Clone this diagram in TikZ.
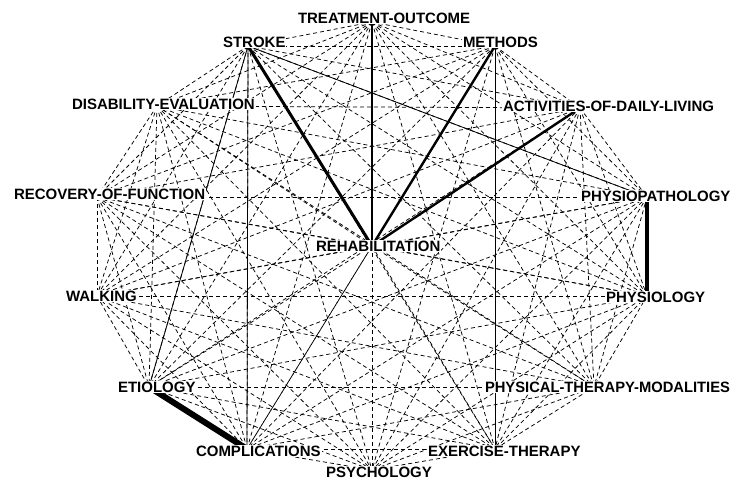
\documentclass[tikz,border=0pt]{standalone}
\usepackage{graphicx}
\usepackage{fontspec}
\setmainfont{Liberation Sans}
\begin{document}
\begin{tikzpicture}[x=1pt,y=-1pt,
  link/.style={line width=0.75pt, dash pattern=on 4pt off 3pt},
  tie/.style={line width=#1, line cap=butt},
  term/.style={fill=white, inner sep=0.8pt, anchor=west, text height=11pt, text depth=0pt,
    font=\fontsize{15}{15}\selectfont\bfseries}]
\useasboundingbox (0,0) rectangle (732,480);

% term positions
\coordinate (treat)   at (372,22);
\coordinate (stroke)  at (248,46);
\coordinate (methods) at (495,46);
\coordinate (disab)   at (157,106);
\coordinate (activ)   at (580,108);
\coordinate (recov)   at (97,197);
\coordinate (physp)   at (647,197);
\coordinate (rehab)   at (372,246);
\coordinate (walk)    at (97,296);
\coordinate (physl)   at (647,296);
\coordinate (etiol)   at (149,387);
\coordinate (ptm)     at (594,387);
\coordinate (compl)   at (247,449);
\coordinate (exer)    at (495,449);
\coordinate (psych)   at (372,470);

% every pair of terms is linked by a dashed line
\foreach \a [count=\i] in {treat,stroke,methods,disab,activ,recov,physp,rehab,walk,physl,etiol,ptm,compl,exer,psych}{
  \foreach \b [count=\j] in {treat,stroke,methods,disab,activ,recov,physp,rehab,walk,physl,etiol,ptm,compl,exer,psych}{
    \ifnum\j>\i \draw[link] (\a) -- (\b); \fi
  }
}

% stronger links
\draw[tie=3pt]   (stroke)  -- (rehab);
\draw[tie=2pt]   (treat)   -- (rehab);
\draw[tie=2.4pt] (methods) -- (rehab);
\draw[tie=2.4pt] (activ)   -- (rehab);
\draw[tie=0.8pt] (stroke)  -- (physp);
\draw[tie=0.8pt] (stroke)  -- (etiol);
\draw[tie=0.8pt] (stroke)  -- (compl);
\draw[tie=0.8pt] (methods) -- (exer);
\draw[tie=4pt]   (physp)   -- (physl);
\draw[tie=6pt]   (etiol)   -- (compl);

% labels
\node[term] (l-treat)   at (297,18)  {TREATMENT-OUTCOME};
\node[term] (l-stroke)  at (222,42)  {STROKE};
\node[term] (l-methods) at (462,42)  {METHODS};
\node[term] (l-disab)   at (71,104)  {DISABILITY-EVALUATION};
\node[term] (l-activ)   at (502,106) {ACTIVITIES-OF-DAILY-LIVING};
\node[term] (l-recov)   at (13,194)  {RECOVERY-OF-FUNCTION};
\node[term] (l-physp)   at (580,196) {PHYSIOPATHOLOGY};
\node[term] (l-rehab)   at (315,246) {REHABILITATION};
\node[term] (l-walk)    at (65,296)  {WALKING};
\node[term] (l-physl)   at (605,297) {PHYSIOLOGY};
\node[term] (l-etiol)   at (117,387) {ETIOLOGY};
\node[term] (l-ptm)     at (484,387) {\resizebox{245pt}{\height}{PHYSICAL-THERAPY-MODALITIES}};
\node[term] (l-compl)   at (195,451) {COMPLICATIONS};
\node[term] (l-exer)    at (427,451) {EXERCISE-THERAPY};
\node[term] (l-psych)   at (325,472) {PSYCHOLOGY};
\end{tikzpicture}
\end{document}
